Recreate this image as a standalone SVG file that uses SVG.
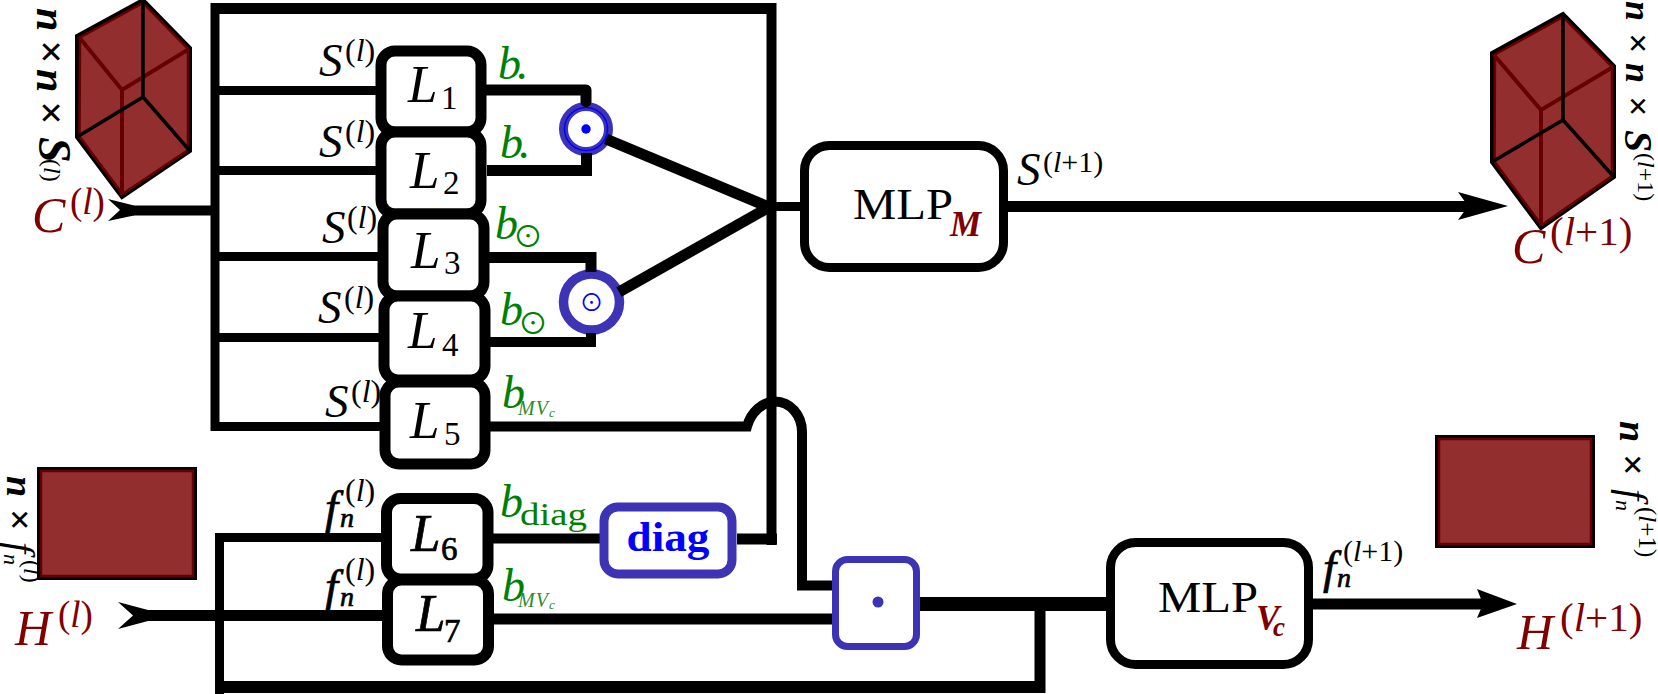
<svg xmlns="http://www.w3.org/2000/svg" width="1658" height="694" viewBox="0 0 1658 694">
<style>
text{font-family:"Liberation Serif",serif;fill:#000}
.i{font-style:italic}
.red{fill:#800000}.grn{fill:#008000}.blu{fill:#0000ff}
.wire{fill:none;stroke:#000;stroke-width:10}
.box{fill:#fff;stroke:#000;stroke-width:11}
.mlp{fill:#fff;stroke:#000;stroke-width:9}
.ind{fill:none;stroke:#3c33b5}
.cf{fill:#932e2e;stroke:#000;stroke-width:4;stroke-linejoin:miter}
.ci{fill:none;stroke:#660000;stroke-width:4}
.cb{fill:none;stroke:#000;stroke-width:3.5}
.l{font-size:53px;font-style:italic}.ls{font-size:33px}
.s{font-size:47px;font-style:italic}.sp{font-size:32px}
.c{font-size:50px;font-style:italic}.cp{font-size:37px}
.b{font-size:46px;font-style:italic}
.sym{font-family:"Noto Sans CJK JP",sans-serif}
.med{stroke:#000;stroke-width:.7px}
.dim{font-style:italic;font-weight:bold}
.sub{font-size:20px;font-style:italic}
</style>
<g id="odot-1"><circle class="ind" cx="586" cy="129" r="22.500" stroke-width="9"/><circle cx="586" cy="129" r="21.500" fill="none" stroke="#0000ff" stroke-width="1.500"/><circle cx="586" cy="129" r="4.700" fill="#0000ff"/></g>
<g id="odot-2"><circle class="ind" cx="591.500" cy="302" r="28" stroke-width="9.500"/><text class="blu sym" x="591.500" y="311" font-size="24" text-anchor="middle">⊙</text></g>
<g id="connectors">
<path class="wire" d="M215 3V431" style="stroke-width:9"/>
<path class="wire" d="M211 8.500H776" style="stroke-width:11"/>
<path class="wire" d="M771.500 3V545" style="stroke-width:10"/>
<path class="wire" d="M215 90.500H381M215 170.500H381M215 256.500H383M215 337.500H384M215 426.500H385" style="stroke-width:9"/>
<path class="wire" d="M487 90H586V101.500" style="stroke-linecap:round;stroke-linejoin:round;stroke-width:11"/>
<path class="wire" d="M487 170.500H586.500V153" style="stroke-width:11"/>
<path class="wire" d="M489 257.500H591V272" style="stroke-width:11"/>
<path class="wire" d="M490 342H591V333" style="stroke-width:10"/>
<path class="wire" d="M606 139L771 208" style="stroke-width:11"/>
<path class="wire" d="M619 292L771 206" style="stroke-width:11"/>
<path class="wire" d="M771 206.500H802" style="stroke-width:9"/>
<path class="wire" d="M1005 206.500H1470" style="stroke-width:11"/>
<path d="M1508 206L1458 192L1468 206L1458 220Z"/>
<path class="wire" d="M133 210.500H213" style="stroke-width:10"/>
<path d="M108 199L134 205.500V215.500L108 221L120 210Z"/>
<path class="wire" d="M490 426.500H747C751 412 763 401.500 775 401.500C790 401.500 802 415 802 432V585.500H835" style="stroke-width:10"/>
<path class="wire" d="M493 538.500H600" style="stroke-width:10"/>
<path class="wire" d="M737 539H777" style="stroke-width:11"/>
<path class="wire" d="M493 619H835" style="stroke-width:11"/>
<path class="wire" d="M381 537.500H219.500V694" style="stroke-width:9"/>
<path class="wire" d="M147 615.500H384" style="stroke-width:11"/>
<path d="M118 602L148 610V621L118 629L133 615.500Z"/>
<path class="wire" d="M215 687H1045" style="stroke-width:12"/>
<path class="wire" d="M1040 604V693" style="stroke-width:11"/>
<path class="wire" d="M918 604H1110" style="stroke-width:14"/>
<path class="wire" d="M1308 604H1490" style="stroke-width:11"/>
<path d="M1517 604L1477 589L1483 604L1477 618Z"/>
</g>
<g id="cube-in">
<path class="cf" d="M77 36L143 0L190 48V151L122 197L77 137Z"/>
<path class="ci" d="M80 37.500L143 3L188 49V150L122.500 194L79.500 136.500Z" style="stroke-width:2.500"/>
<path class="ci" d="M79 37L122 90L189 49M122 90V195"/>
<path class="cb" d="M143 0V97L77 137M143 97L190 151"/>
</g>
<g id="cube-out">
<path class="cf" d="M1492 53L1563 14L1614 66V177L1541 228L1492 162Z"/>
<path class="ci" d="M1495 54.500L1563 17L1612 67V176L1541.500 225L1494.500 161.500Z" style="stroke-width:2.500"/>
<path class="ci" d="M1494 55L1541 110L1613 67M1541 110V226"/>
<path class="cb" d="M1563 14V120L1492 162M1563 120L1614 177"/>
</g>
<g id="tensor-in"><rect x="39" y="469" width="156" height="109" fill="#932e2e" stroke="#000" stroke-width="4"/><rect x="41" y="471" width="152" height="105" fill="none" stroke="#660000" stroke-width="2.500"/></g>
<g id="tensor-out"><rect x="1437" y="437" width="156" height="109" fill="#932e2e" stroke="#000" stroke-width="4"/><rect x="1439" y="439" width="152" height="105" fill="none" stroke="#660000" stroke-width="2.500"/></g>
<g id="L1"><rect class="box" x="381" y="51" width="100" height="81" rx="14"/><text><tspan class="l" x="408" y="102">L</tspan><tspan class="ls" x="441" y="109">1</tspan></text></g>
<g id="L2"><rect class="box" x="381" y="132" width="100" height="82" rx="14"/><text><tspan class="l" x="410" y="188">L</tspan><tspan class="ls" x="443" y="194">2</tspan></text></g>
<g id="L3"><rect class="box" x="383" y="214" width="101" height="82" rx="14"/><text><tspan class="l" x="411" y="268">L</tspan><tspan class="ls" x="444" y="274">3</tspan></text></g>
<g id="L4"><rect class="box" x="384" y="296" width="101" height="84" rx="14"/><text><tspan class="l" x="408" y="348">L</tspan><tspan class="ls" x="442" y="356">4</tspan></text></g>
<g id="L5"><rect class="box" x="385" y="382" width="100" height="82" rx="14"/><text><tspan class="l" x="410" y="438">L</tspan><tspan class="ls" x="444" y="445">5</tspan></text></g>
<g id="L6"><rect class="box" x="386.500" y="498.500" width="101.500" height="80.500" rx="14"/><text class="med"><tspan class="l" x="411" y="551">L</tspan><tspan class="ls" x="441" y="560">6</tspan></text></g>
<g id="L7"><rect class="box" x="387.500" y="580" width="101" height="80" rx="14"/><text class="med"><tspan class="l" x="416" y="631">L</tspan><tspan class="ls" x="444" y="642">7</tspan></text></g>
<g id="diag"><rect class="ind" x="604" y="507" width="128" height="67" rx="14" stroke-width="9"/><text class="blu" x="668" y="551" font-size="42" font-weight="bold" text-anchor="middle" textLength="83" lengthAdjust="spacingAndGlyphs">diag</text></g>
<g id="dot"><rect class="ind" x="835.500" y="559.500" width="81" height="87" rx="12" stroke-width="7"/><circle cx="878" cy="602" r="5.500" fill="#3c33b5"/></g>
<g id="MLP-M"><rect class="mlp" x="804.500" y="145.500" width="199" height="122" rx="25"/><text><tspan x="853" y="219" font-size="44" textLength="100" lengthAdjust="spacingAndGlyphs">MLP</tspan><tspan class="red" x="950" y="236" font-size="35" font-weight="bold" font-style="italic">M</tspan></text></g>
<g id="MLP-Vc"><rect class="mlp" x="1110.500" y="542.500" width="198" height="122" rx="25"/><text><tspan x="1158" y="612" font-size="44" textLength="100" lengthAdjust="spacingAndGlyphs">MLP</tspan><tspan class="red" x="1256" y="630" font-size="35" font-weight="bold" font-style="italic">V</tspan><tspan class="red" x="1273" y="636" font-size="27" font-weight="bold" font-style="italic">c</tspan></text></g>
<g id="labels">
<text><tspan class="s" x="319" y="76">S</tspan><tspan class="sp" x="345" y="61">(<tspan class="i">l</tspan>)</tspan></text>
<text><tspan class="s" x="319" y="157">S</tspan><tspan class="sp" x="345" y="142">(<tspan class="i">l</tspan>)</tspan></text>
<text><tspan class="s" x="322" y="243">S</tspan><tspan class="sp" x="347" y="228">(<tspan class="i">l</tspan>)</tspan></text>
<text><tspan class="s" x="318" y="323">S</tspan><tspan class="sp" x="344" y="308">(<tspan class="i">l</tspan>)</tspan></text>
<text><tspan class="s" x="325" y="417">S</tspan><tspan class="sp" x="351" y="402">(<tspan class="i">l</tspan>)</tspan></text>
<text><tspan class="s med" x="325" y="523">f</tspan><tspan class="i med" x="340" y="527" font-size="28">n</tspan><tspan class="sp" x="345" y="501">(<tspan class="i">l</tspan>)</tspan></text>
<text><tspan class="s med" x="325" y="602">f</tspan><tspan class="i med" x="340" y="606" font-size="28">n</tspan><tspan class="sp" x="345" y="580">(<tspan class="i">l</tspan>)</tspan></text>
<text><tspan class="s med" x="1323" y="583">f</tspan><tspan class="i med" x="1337" y="587" font-size="28">n</tspan><tspan x="1343" y="561" font-size="30">(<tspan class="i">l</tspan>+1)</tspan></text>
<text><tspan class="s" x="1017" y="185">S</tspan><tspan x="1043" y="172" font-size="30">(<tspan class="i">l</tspan>+1)</tspan></text>
<text class="red"><tspan class="c" x="32" y="232">C</tspan><tspan class="cp" x="70" y="214">(<tspan class="i">l</tspan>)</tspan></text>
<text class="red"><tspan class="c" x="1512" y="263">C</tspan><tspan x="1550" y="245" font-size="41">(<tspan class="i">l</tspan>+1)</tspan></text>
<text class="red"><tspan class="c" x="15" y="645">H</tspan><tspan class="cp" x="58" y="627">(<tspan class="i">l</tspan>)</tspan></text>
<text class="red"><tspan class="c" x="1517" y="649">H</tspan><tspan x="1560" y="631" font-size="41">(<tspan class="i">l</tspan>+1)</tspan></text>
<text class="grn"><tspan class="b" x="498" y="79">b</tspan><tspan class="b" x="517" y="79">.</tspan></text>
<text class="grn"><tspan class="b" x="500" y="158">b</tspan><tspan class="b" x="519" y="158">.</tspan></text>
<text class="grn"><tspan class="b" x="495" y="239">b</tspan><tspan class="sym" x="513" y="247" font-size="30">⊙</tspan></text>
<text class="grn"><tspan class="b" x="500" y="325">b</tspan><tspan class="sym" x="518" y="334" font-size="30">⊙</tspan></text>
<text class="grn"><tspan class="b" x="502" y="408">b</tspan><tspan class="sub" x="518" y="415" fill="#2e8b2e" letter-spacing="1">MV<tspan font-size="13" dy="2">c</tspan></tspan></text>
<text class="grn"><tspan class="b" x="500" y="517">b</tspan><tspan x="520" y="525" font-size="31" textLength="67" lengthAdjust="spacingAndGlyphs">diag</tspan></text>
<text class="grn"><tspan class="b" x="502" y="601">b</tspan><tspan class="sub" x="518" y="607" fill="#2e8b2e" letter-spacing="1">MV<tspan font-size="13" dy="2">c</tspan></tspan></text>
<text class="dim" transform="translate(37,0) rotate(90)"><tspan x="8" y="0" font-size="42">n</tspan><tspan x="40" y="0" font-size="42" font-style="normal">×</tspan><tspan x="69" y="0" font-size="42">n</tspan><tspan x="101" y="0" font-size="42" font-style="normal">×</tspan><tspan x="137" y="-2" font-size="46">S</tspan><tspan x="159" y="-7" font-size="24" font-style="normal" font-weight="normal">(<tspan font-style="italic">l</tspan>)</tspan></text>
<text class="dim" transform="translate(1626,0) rotate(90)"><tspan x="1" y="0" font-size="36">n</tspan><tspan x="33" y="0" font-size="36" font-style="normal">×</tspan><tspan x="63" y="0" font-size="36">n</tspan><tspan x="96" y="0" font-size="36" font-style="normal">×</tspan><tspan x="130" y="1" font-size="40">S</tspan><tspan x="153" y="-12" font-size="24" font-style="normal" font-weight="normal">(<tspan font-style="italic">l</tspan>+1)</tspan></text>
<text class="dim" transform="translate(7,0) rotate(90)"><tspan x="476" y="0" font-size="38">n</tspan><tspan x="509" y="0" font-size="38" font-style="normal">×</tspan><tspan x="542" y="0" font-size="40" font-weight="normal">f</tspan><tspan x="554" y="3" font-size="22" font-weight="normal">n</tspan><tspan x="560" y="-17" font-size="24" font-style="normal" font-weight="normal">(<tspan font-style="italic">l</tspan>)</tspan></text>
<text class="dim" transform="translate(1620,0) rotate(90)"><tspan x="421" y="0" font-size="38">n</tspan><tspan x="454" y="0" font-size="38" font-style="normal">×</tspan><tspan x="489" y="0" font-size="40" font-weight="normal">f</tspan><tspan x="500" y="4" font-size="22" font-weight="normal">n</tspan><tspan x="507" y="-19" font-size="25" font-style="normal" font-weight="normal">(<tspan font-style="italic">l</tspan>+1)</tspan></text>
</g>
</svg>
